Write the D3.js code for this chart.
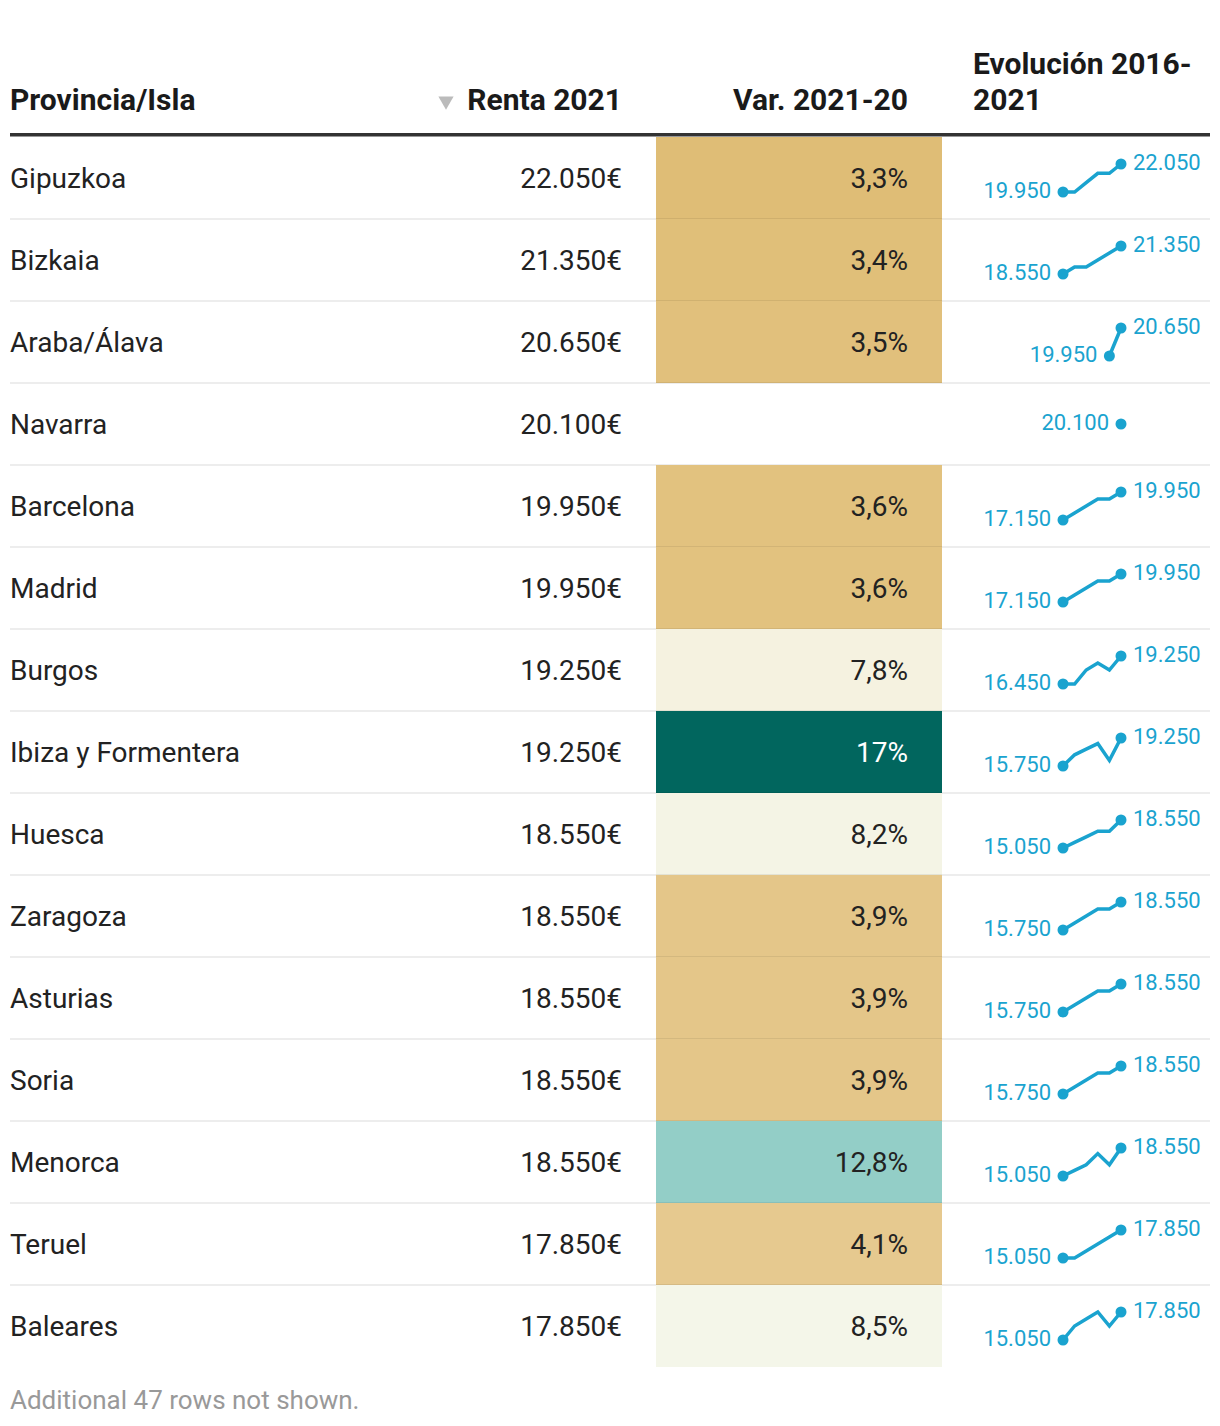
<!DOCTYPE html>
<html><head><meta charset="utf-8">
<script src="https://cdn.jsdelivr.net/npm/d3@7"></script>
<style>
body{margin:0;background:#fff;}
svg{display:block;font-family:Roboto,"Noto Sans",sans-serif;}
</style></head>
<body><svg id="chart" width="1220" height="1426"></svg>
<script>
const provinces = ["Gipuzkoa","Bizkaia","Araba/Álava","Navarra","Barcelona","Madrid","Burgos","Ibiza y Formentera","Huesca","Zaragoza","Asturias","Soria","Menorca","Teruel","Baleares"];
const renta2021 = [22050,21350,20650,20100,19950,19950,19250,19250,18550,18550,18550,18550,18550,17850,17850];
const variation = [3.3,3.4,3.5,null,3.6,3.6,7.8,17,8.2,3.9,3.9,3.9,12.8,4.1,8.5];
const years = [2016,2017,2018,2019,2020,2021];
const evolution = [
  [19950,19950,20650,21350,21350,22050],
  [18550,19250,19250,19950,20650,21350],
  [null,null,null,null,19950,20650],
  [null,null,null,null,null,20100],
  [17150,17850,18550,19250,19250,19950],
  [17150,17850,18550,19250,19250,19950],
  [16450,16450,17850,18550,17850,19250],
  [15750,17150,17850,18550,16450,19250],
  [15050,15750,16450,17150,17150,18550],
  [15750,16450,17150,17850,17850,18550],
  [15750,16450,17150,17850,17850,18550],
  [15750,16450,17150,17850,17850,18550],
  [15050,15750,16450,17850,16450,18550],
  [15050,15050,15750,16450,17150,17850],
  [15050,16450,17150,17850,16450,17850]
];
const headers = ["Provincia/Isla","Renta 2021","Var. 2021-20",["Evolución 2016-","2021"]];
const footerText = "Additional 47 rows not shown.";
const colorStops = [3.3,4.1,7.8,8.5,12.8,17];
const colorRange = ["#dfbd76","#e6c98f","#f5f2e0","#f4f6e9","#93cec7","#01665e"];

const loc = d3.formatLocale({decimal:",", thousands:".", grouping:[3], currency:["","€"]});
const fmtEuro = v => loc.format(",")(v) + "€";
const fmtNum = loc.format(",");
const fmtPct = v => loc.format(".1~f")(v) + "%";

const svg = d3.select("#chart");
const left = 10, right = 1210;
const headerLineY = 135, rowTop = 137, rowH = 82;
const colRentaRight = 622, cellX0 = 656, cellX1 = 942, varRight = 908;
const sparkX0 = 1063, sparkX1 = 1121, evoLeft = 973;
const textColor = "#222", sparkColor = "#1aa3cf";

const yRow = d3.scaleBand().domain(d3.range(provinces.length)).range([rowTop, rowTop + rowH*provinces.length]).paddingInner(0);
const color = d3.scaleLinear().domain(colorStops).range(colorRange).clamp(true);
const xSpark = d3.scaleLinear().domain(d3.extent(years)).range([sparkX0, sparkX1]);

// header
const hg = svg.append("g").attr("font-weight", 700).attr("font-size", 30).attr("fill", "#1a1a1a");
hg.append("text").attr("x", left).attr("y", 110).text(headers[0]);
hg.append("text").attr("x", colRentaRight).attr("y", 110).attr("text-anchor","end").text(headers[1]);
hg.append("text").attr("x", varRight).attr("y", 110).attr("text-anchor","end").text(headers[2]);
hg.append("text").attr("x", evoLeft).attr("y", 74).text(headers[3][0]);
hg.append("text").attr("x", evoLeft).attr("y", 110).text(headers[3][1]);
// sort triangle
svg.append("path").attr("d", d3.symbol(d3.symbolTriangle, 100)()).attr("fill", "#bbb")
  .attr("transform", "translate(446,101) rotate(180)");

svg.append("rect").attr("x", left).attr("y", headerLineY-2).attr("width", right-left).attr("height", 3.5).attr("fill", "#333");

// rows
const rows = svg.selectAll("g.row").data(provinces.map((p,i)=>({p, i, renta: renta2021[i], v: variation[i], s: evolution[i]})))
  .join("g").attr("class","row").attr("transform", d => `translate(0,${yRow(d.i)})`);

rows.filter(d => d.v != null).append("rect").attr("x", cellX0).attr("y", 0).attr("width", cellX1-cellX0).attr("height", yRow.bandwidth()).attr("fill", d => color(d.v));

rows.filter(d => d.i < provinces.length-1).append("rect").attr("x", left).attr("y", rowH-1).attr("width", right-left).attr("height", 2).attr("fill", "rgba(0,0,0,0.07)");

const cy = rowH/2;
rows.append("text").attr("x", left).attr("y", cy).attr("dy","0.36em").attr("font-size", 28).attr("fill", textColor).text(d => d.p);
rows.append("text").attr("x", colRentaRight).attr("y", cy).attr("dy","0.36em").attr("text-anchor","end").attr("font-size", 28).attr("fill", textColor).text(d => fmtEuro(d.renta));
rows.filter(d => d.v != null).append("text").attr("x", varRight).attr("y", cy).attr("dy","0.36em").attr("text-anchor","end").attr("font-size", 28)
  .attr("fill", d => d.v > 14 ? "#fff" : textColor).text(d => fmtPct(d.v));

// sparklines
rows.each(function(d){
  const g = d3.select(this);
  const pts = years.map((yr,j)=>({yr, v: d.s[j]})).filter(p => p.v != null);
  const ext = d3.extent(pts, p => p.v);
  const ys = ext[0] === ext[1] ? (() => cy) : d3.scaleLinear().domain(ext).range([cy+14, cy-14]);
  const line = d3.line().x(p => xSpark(p.yr)).y(p => ys(p.v));
  g.append("path").attr("d", line(pts)).attr("fill","none").attr("stroke", sparkColor).attr("stroke-width", 3.5).attr("stroke-linejoin","miter");
  const first = pts[0], last = pts[pts.length-1];
  const ends = first === last ? [first] : [first, last];
  g.selectAll("circle").data(ends).join("circle").attr("cx", p => xSpark(p.yr)).attr("cy", p => ys(p.v)).attr("r", 5.5).attr("fill", sparkColor);
  g.append("text").attr("x", xSpark(first.yr) - 12).attr("y", ys(first.v)).attr("dy","0.28em").attr("text-anchor","end")
    .attr("font-size", 22).attr("fill", sparkColor).text(fmtNum(first.v));
  if (first !== last) {
    g.append("text").attr("x", xSpark(last.yr) + 12).attr("y", ys(last.v)).attr("dy","0.28em")
      .attr("font-size", 22).attr("fill", sparkColor).text(fmtNum(last.v));
  }
});

svg.append("text").attr("x", left).attr("y", 1409).attr("font-size", 26).attr("fill", "#999").text(footerText);
</script></body></html>
